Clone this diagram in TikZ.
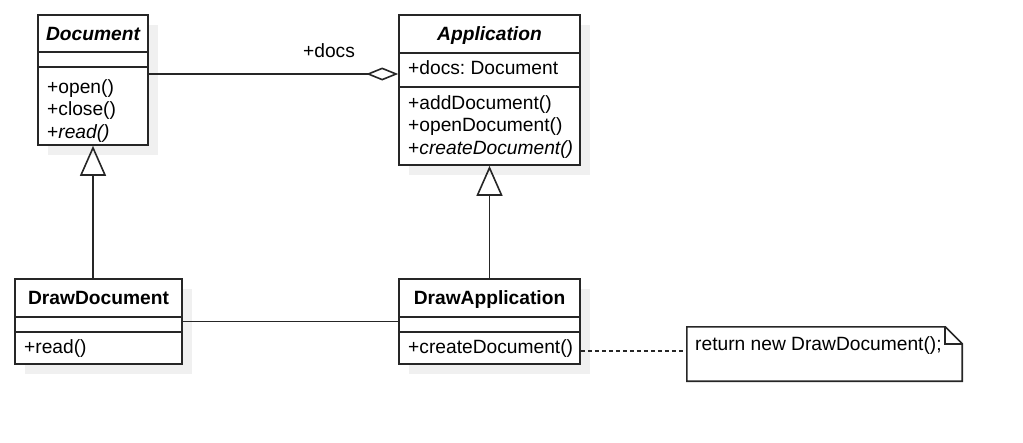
\documentclass[tikz,border=0pt]{standalone}
\usepackage{fontspec}
\setmainfont{Liberation Sans}
\frenchspacing
\usetikzlibrary{arrows.meta,shadows,calc}
\tikzset{
  classbox/.style={draw=black!85, line width=1.6pt, fill=white, inner sep=0pt,
    drop shadow={shadow xshift=10pt, shadow yshift=-10pt, fill=gray!12, opacity=1}},
  sep/.style={draw=black!85, line width=1.6pt},
  txt/.style={anchor=base west, inner sep=0pt, font=\fontsize{19.2}{23}\selectfont},
  head/.style={anchor=base, inner sep=0pt, font=\fontsize{19.2}{23}\selectfont\bfseries},
  conn/.style={draw=black!85, line width=1.6pt},
  notebox/.style={inner sep=0pt, minimum width=275pt, minimum height=54pt},
}
\begin{document}
\begin{tikzpicture}[x=1pt,y=-1pt]
\useasboundingbox (0,0) rectangle (1023,442);
% class boxes
\node[classbox, minimum width=110pt, minimum height=130pt] (doc) at (93,80) {};
\node[classbox, minimum width=181pt, minimum height=150pt] (app) at (489.5,90) {};
\node[classbox, minimum width=167pt, minimum height=85pt] (drawdoc) at (98.5,321.5) {};
\node[classbox, minimum width=181pt, minimum height=85pt] (drawapp) at (489.5,321.5) {};
% separators
\draw[sep] (38,52) -- (148,52);
\draw[sep] (38,67) -- (148,67);
\draw[sep] (399,53) -- (580,53);
\draw[sep] (399,87) -- (580,87);
\draw[sep] (15,317) -- (182,317);
\draw[sep] (15,332) -- (182,332);
\draw[sep] (399,317) -- (580,317);
\draw[sep] (399,332) -- (580,332);
% texts
\node[head] (docH) at (93,40) {\itshape Document};
\node[txt] (docM1) at (47,93) {+open()};
\node[txt] (docM2) at (47,115.5) {+close()};
\node[txt] (docM3) at (47,138) {+\textit{read()}};
\node[head] (appH) at (489.5,40.5) {\itshape Application};
\node[txt] (appA1) at (408,74) {+docs: Document};
\node[txt] (appM1) at (408,109) {+addDocument()};
\node[txt] (appM2) at (408,131.5) {+openDocument()};
\node[txt] (appM3) at (408,154) {+\textit{createDocument()}};
\node[head] (ddH) at (98.5,304) {DrawDocument};
\node[txt] (ddM1) at (24,353) {+read()};
\node[head] (daH) at (489.5,304) {DrawApplication};
\node[txt] (daM1) at (408,353) {+createDocument()};
% note
\node[notebox] (note) at (824.5,354) {};
\draw[conn] (note.north west) -- ($(note.north east)+(-17,0)$) -- ($(note.north east)+(0,17)$) -- (note.south east) -- (note.south west) -- cycle;
\draw[conn] ($(note.north east)+(-17,0)$) -- ($(note.north east)+(-17,17)$) -- ($(note.north east)+(0,17)$);
\node[txt] (noteT) at (695,350) {return new DrawDocument();};
% connectors
\coordinate (assocY) at (0,74);
\coordinate (dashY) at (0,351);
\draw[conn, -{Diamond[open, length=32pt, width=13pt]}] (doc.east |- assocY) -- (app.west |- assocY);
\node[anchor=base, inner sep=0pt, font=\fontsize{19.2}{23}\selectfont] (docsL) at (329,57.5) {+docs};
\draw[conn, -{Triangle[open, length=30pt, width=26pt]}] (drawdoc.north -| doc.south) -- (doc.south);
\draw[conn, -{Triangle[open, length=30pt, width=26pt]}] (drawapp.north) -- (app.south);
\draw[conn] (drawdoc.east) -- (drawapp.west);
\draw[conn, line width=1.5pt, dash pattern=on 4pt off 3pt] (drawapp.east |- dashY) -- (note.west |- dashY);
\end{tikzpicture}
\end{document}
